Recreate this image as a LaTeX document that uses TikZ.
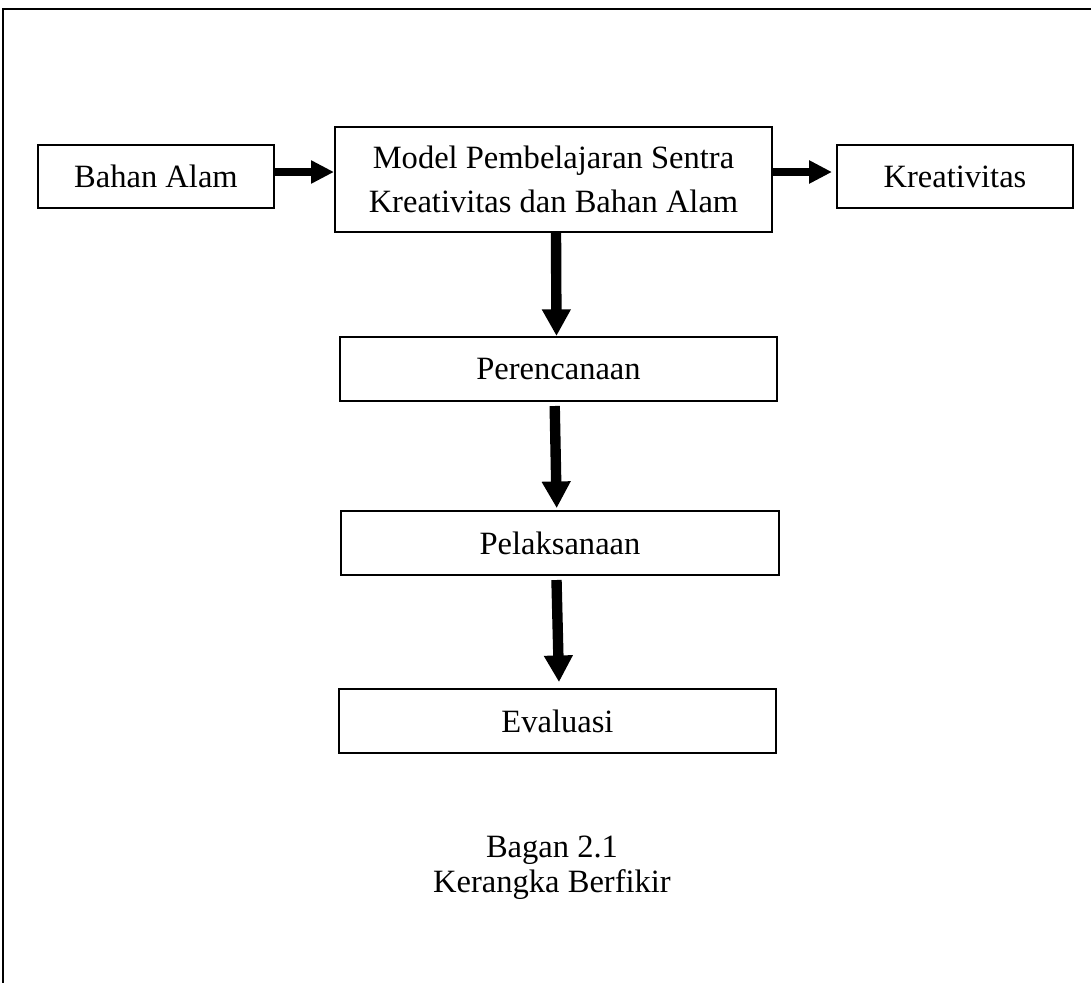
\documentclass[tikz,border=0pt]{standalone}
\usepackage{fontspec}
\setmainfont{Liberation Serif}
\usetikzlibrary{arrows.meta}
\begin{document}
\begin{tikzpicture}[x=0.375pt,y=-0.375pt,
  box/.style={draw,line width=0.75pt,inner sep=0pt,align=center,
    font=\fontsize{12.2}{16.5}\selectfont},
  harrow/.style={line width=3.3pt,-{Triangle[length=8.6pt,width=8.2pt]}},
  varrow/.style={line width=3.9pt,-{Triangle[length=10pt,width=10.2pt]}},
  captext/.style={font=\fontsize{12.2}{13.8}\selectfont,inner sep=0pt,anchor=base}]
\useasboundingbox (0,0) rectangle (1091,983);
% outer frame (top and left only visible)
\draw[line width=0.95pt] (1091,9) -- (3,9) -- (3,983);
% nodes
\node[box,minimum width=88.5pt,minimum height=23.6pt] (bahan) at (156,176.5) {Bahan Alam};
\node[box,minimum width=163.9pt,minimum height=39.4pt] (model) at (553.5,179.5) {Model Pembelajaran Sentra\\Kreativitas dan Bahan Alam};
\node[box,minimum width=88.5pt,minimum height=23.6pt] (kreat) at (955,176.5) {Kreativitas};
\node[box,minimum width=163.9pt,minimum height=24pt] (peren) at (558.5,369) {Perencanaan};
\node[box,minimum width=164.2pt,minimum height=24pt] (pelak) at (560,543) {Pelaksanaan};
\node[box,minimum width=163.9pt,minimum height=24pt] (eval) at (557.5,721) {Evaluasi};
% coordinates for arrow ends
\coordinate (a1s) at (bahan.east |- 0,172);
\coordinate (a1e) at (model.west |- 0,172);
\coordinate (a2s) at (model.east |- 0,172);
\coordinate (a2e) at ([xshift=-1.5pt]kreat.west |- 0,172);
\coordinate (a3s) at (556,0 |- model.south);
\coordinate (a3e) at (556.5,0 |- peren.north);
\coordinate (a4s) at ([yshift=-1.5pt]554.7,0 |- peren.south);
\coordinate (a4e) at ([yshift=0.7pt]556.7,0 |- pelak.north);
\coordinate (a5s) at ([yshift=-1.5pt]556.5,0 |- pelak.south);
\coordinate (a5e) at ([yshift=2.2pt]559,0 |- eval.north);
% arrows
\draw[harrow] (a1s) -- (a1e);
\draw[harrow] (a2s) -- (a2e);
\draw[varrow] (a3s) -- (a3e);
\draw[varrow] (a4s) -- (a4e);
\draw[varrow] (a5s) -- (a5e);
% caption
\node[captext] (cap1) at (552,857) {Bagan 2.1};
\node[captext] (cap2) at (552,892) {Kerangka Berfikir};
\end{tikzpicture}
\end{document}
